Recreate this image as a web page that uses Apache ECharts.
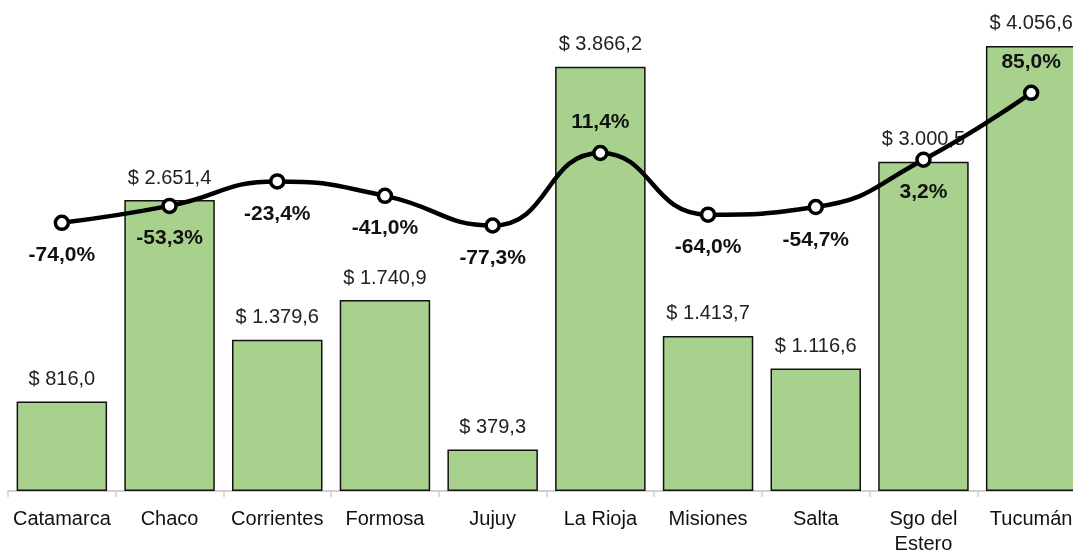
<!DOCTYPE html>
<html>
<head>
<meta charset="utf-8">
<script src="https://cdn.jsdelivr.net/npm/echarts@6/dist/echarts.min.js"></script>
<style>
  html, body { margin: 0; padding: 0; background: #fff; }
  #chart { width: 1073px; height: 551px; }
</style>
</head>
<body>
<div id="chart"></div>
<script>
// provincias
const provincias = ['Catamarca', 'Chaco', 'Corrientes', 'Formosa', 'Jujuy', 'La Rioja', 'Misiones', 'Salta', 'Sgo del\nEstero', 'Tucumán']
// montos (barras)
const montos = [816.0, 2651.4, 1379.6, 1740.9, 379.3, 3866.2, 1413.7, 1116.6, 3000.5, 4056.6]
// variación % (línea)
const variacion = [-74.0, -53.3, -23.4, -41.0, -77.3, 11.4, -64.0, -54.7, 3.2, 85.0]
// etiquetas de la línea que van arriba del punto
const etiquetaArriba = ['La Rioja', 'Tucumán']

// formato 1.234,5
function fmt (v) {
  const parts = v.toFixed(1).split('.')
  parts[0] = parts[0].replace(/\B(?=(\d{3})+(?!\d))/g, '.')
  return parts.join(',')
}

const chart = echarts.init(document.getElementById('chart'))

const lineData = variacion.map((v, i) => {
  const up = etiquetaArriba.indexOf(provincias[i]) >= 0
  return {
    value: v,
    label: { position: up ? 'top' : 'bottom', distance: up ? 12 : 14 }
  }
})

chart.setOption({
  animation: false,
  grid: { left: 8, width: 1077, top: 10, bottom: 60, containLabel: false, outerBoundsMode: 'none' },
  xAxis: {
    type: 'category',
    data: provincias,
    axisLine: { lineStyle: { color: '#d0d0d0', width: 2 } },
    axisTick: { show: true, length: 6, lineStyle: { color: '#d0d0d0', width: 1.5 } },
    axisLabel: {
      color: '#111',
      fontFamily: 'Liberation Sans',
      fontSize: 20,
      margin: 16,
      lineHeight: 25,
      interval: 0
    }
  },
  yAxis: [
    { type: 'value', min: 0, max: 4384, show: false, splitLine: { show: false } },
    { type: 'value', min: -402.2, max: 186.4, show: false, splitLine: { show: false } }
  ],
  series: [
    {
      type: 'bar',
      data: montos,
      barCategoryGap: '16%',
      itemStyle: { color: '#a9d18e', borderColor: '#111', borderWidth: 1.5 },
      label: {
        show: true,
        position: 'top',
        distance: 12,
        color: '#222',
        fontFamily: 'Liberation Sans',
        fontSize: 20,
        formatter: p => '$ ' + fmt(p.value)
      }
    },
    {
      type: 'line',
      yAxisIndex: 1,
      data: lineData,
      smooth: 0.5,
      symbol: 'circle',
      symbolSize: 13,
      lineStyle: { color: '#000', width: 4.5 },
      itemStyle: { color: '#fff', borderColor: '#000', borderWidth: 3.5 },
      label: {
        show: true,
        color: '#111',
        fontFamily: 'Liberation Sans',
        fontWeight: 'bold',
        fontSize: 21,
        formatter: p => fmt(p.value) + '%'
      },
      z: 5
    }
  ]
})
</script>
</body>
</html>
